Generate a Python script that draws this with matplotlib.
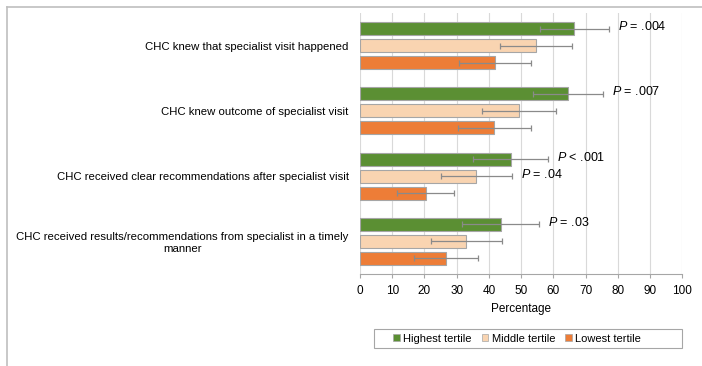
import numpy as np
import matplotlib
matplotlib.use("Agg")
import matplotlib.pyplot as plt
from matplotlib.lines import Line2D
from matplotlib.patches import Rectangle

plt.rcParams['font.family'] = ['Liberation Sans', 'DejaVu Sans']
plt.rcParams['mathtext.fontset'] = 'custom'
plt.rcParams['mathtext.rm'] = 'Liberation Sans'
plt.rcParams['mathtext.it'] = 'Liberation Sans:italic'

# datos
categorias = ["CHC knew that specialist visit happened",
              "CHC knew outcome of specialist visit",
              "CHC received clear recommendations after specialist visit",
              "CHC received results/recommendations from specialist in a timely\nmanner"]
series = ["Highest tertile", "Middle tertile", "Lowest tertile"]
alto = [66.5, 64.6, 46.7, 43.7]
medio = [54.6, 49.4, 36.1, 32.9]
bajo = [41.9, 41.7, 20.4, 26.6]
err_alto = [10.8, 10.8, 11.5, 11.9]
err_medio = [11.2, 11.4, 11.1, 11.0]
err_bajo = [11.3, 11.3, 8.8, 9.9]
# etiquetas de p (serie, categoria, texto)
p_labels = [(0, 0, "= .004"), (0, 1, "= .007"), (0, 2, "< .001"),
            (1, 2, "= .04"), (0, 3, "= .03")]

colores = ["#5b8f33", "#f9d4b1", "#ed7d37"]
valores = [alto, medio, bajo]
errores = [err_alto, err_medio, err_bajo]
desplaz = [-0.26, 0.0, 0.26]

fig = plt.figure(figsize=(7.02, 3.66), dpi=100)
ax = fig.add_axes([0.5128, 0.2514, 0.972 - 0.5128, 0.9645 - 0.2514])

y = np.arange(len(categorias))
for i in range(3):
    ax.barh(y + desplaz[i], valores[i], height=0.2, color=colores[i],
            edgecolor="#a6a6a6", linewidth=0.8, zorder=2)
    ax.errorbar(valores[i], y + desplaz[i], xerr=errores[i], fmt="none",
                ecolor="#8a8a8a", elinewidth=0.9, capsize=2.5, capthick=0.9, zorder=3)

for s, c, txt in p_labels:
    xv = valores[s][c] + errores[s][c]
    ax.annotate(r"$\it{P}$ " + txt, (xv, y[c] + desplaz[s]), xytext=(6.5, 1.5),
                textcoords="offset points", va="center", ha="left", fontsize=9)

ax.set_xlim(0, 100)
ax.set_ylim(3.5, -0.5)
ax.set_xticks(np.arange(0, 101, 10))
ax.set_yticks(y)
ax.set_yticklabels(categorias, fontsize=8.2, multialignment="center")
ax.tick_params(axis="y", length=0, pad=8)
ax.tick_params(axis="x", length=3, color="#a6a6a6", labelsize=8.5, pad=5)
ax.grid(axis="x", color="#d9d9d9", linewidth=0.8, zorder=0)
for lado in ["top", "right", "left"]:
    ax.spines[lado].set_visible(False)
ax.spines["bottom"].set_color("#a6a6a6")
ax.set_xlabel("Percentage", fontsize=8.5, labelpad=4)

handles = [plt.Rectangle((0, 0), 1, 1, facecolor=colores[i], edgecolor="#a6a6a6", linewidth=0.5)
           for i in range(3)]
leg = fig.legend(handles, series, loc="center", bbox_to_anchor=(517 / 702, 1 - 338.5 / 366),
                 ncol=3, fontsize=8, frameon=False,
                 handlelength=0.6, handleheight=0.6, handletextpad=0.3, columnspacing=0.9)
# caja de la leyenda
fig.add_artist(Rectangle((374 / 702, 1 - 348 / 366), 308 / 702, 19 / 366,
                         transform=fig.transFigure, fill=False, edgecolor="#a6a6a6",
                         linewidth=0.8))

# marco exterior
fig.add_artist(Line2D([6.5 / 702, 1], [1 - 7 / 366, 1 - 7 / 366], transform=fig.transFigure,
                      color="#bfbfbf", linewidth=1.2))
fig.add_artist(Line2D([6.5 / 702, 6.5 / 702], [0, 1 - 7 / 366], transform=fig.transFigure,
                      color="#bfbfbf", linewidth=1.2))

fig.savefig("out.png", dpi=100)
